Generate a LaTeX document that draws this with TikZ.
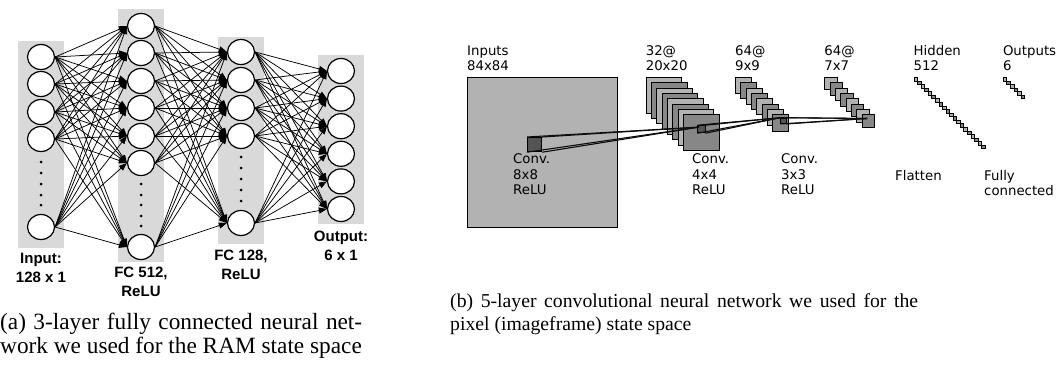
\documentclass[tikz,border=0pt]{standalone}
\usepackage{fontspec}
\setmainfont{Liberation Serif}
\newfontfamily\labelsans{Liberation Sans}
\newfontfamily\mplsans{DejaVu Sans}
\usetikzlibrary{arrows.meta,shapes.geometric}

\definecolor{colbg}{RGB}{217,217,217}
\definecolor{maplight}{gray}{0.7}
\definecolor{mapmid}{gray}{0.53}
\definecolor{patchdark}{gray}{0.33}
\definecolor{linkdark}{gray}{0.05}

\begin{document}
\begin{tikzpicture}[x=1pt,y=-1pt,
  neuron/.style={ellipse, draw, line width=1.2pt, fill=white,
    minimum width=27pt, minimum height=25pt, inner sep=0pt},
  link/.style={line width=0.75pt, -{Triangle[length=8pt,width=6pt]}},
  fclabel/.style={font=\labelsans\bfseries\fontsize{15}{18}\selectfont,
    anchor=base, inner sep=0pt},
  fmapbox/.style={draw=black, line width=0.9pt, rectangle, inner sep=0pt,
    anchor=north west},
  unitbox/.style={draw=black, line width=0.7pt, rectangle, inner sep=0pt,
    anchor=north west, minimum size=3.57pt},
  patch/.style={draw=black, line width=0.9pt, fill=patchdark, rectangle,
    inner sep=0pt, anchor=north west},
  wire/.style={draw=linkdark, line width=1.1pt},
  cnnlabel/.style={font=\mplsans\fontsize{13.3}{15}\selectfont,
    anchor=base west, inner sep=0pt},
  caption/.style={font=\fontsize{19.7}{23}\selectfont,
    anchor=base west, inner sep=0pt},
  bigcaption/.style={font=\fontsize{23.3}{27}\selectfont,
    anchor=base west, inner sep=0pt}
]
\useasboundingbox (0,0) rectangle (1057,377);

% ---------- fully connected network ----------
% layer backgrounds
\fill[colbg] (18,41) rectangle (64,248);
\fill[colbg] (118,9) rectangle (164,262);
\fill[colbg] (218,37) rectangle (264,244);
\fill[colbg] (318,55) rectangle (364,224);

% neurons
\foreach \i/\y in {1/57,2/84,3/112,4/139,5/227}
  \node[neuron] (a\i) at (41,\y) {};
\foreach \i/\y in {1/26,2/53,3/81,4/108,5/136,6/163,7/247}
  \node[neuron] (b\i) at (141,\y) {};
\foreach \i/\y in {1/52,2/80,3/108,4/136,5/223}
  \node[neuron] (c\i) at (241,\y) {};
\foreach \i/\y in {1/71,2/98.6,3/126.2,4/153.8,5/181.4,6/209}
  \node[neuron] (d\i) at (341,\y) {};

% elided neurons
\foreach \y in {162,173,184,195,205}
  \fill (41,\y) circle[radius=1.5pt];
\foreach \y in {184,195,205,216,226}
  \fill (141,\y) circle[radius=1.5pt];
\foreach \y in {157,168,179,190,201}
  \fill (241,\y) circle[radius=1.5pt];

% dense connections
\foreach \i in {1,...,5} \foreach \j in {1,...,7}
  \draw[link] (a\i.east) -- (b\j.west);
\foreach \i in {1,...,7} \foreach \j in {1,...,5}
  \draw[link] (b\i.east) -- (c\j.west);
\foreach \i in {1,...,5} \foreach \j in {1,...,6}
  \draw[link] (c\i.east) -- (d\j.west);

% layer labels
\node[fclabel] (la1) at (41,263.5) {Input:};
\node[fclabel] (la2) at (41,282.5) {128 x 1};
\node[fclabel] (lb1) at (141,277) {FC 512,};
\node[fclabel] (lb2) at (141,296) {ReLU};
\node[fclabel] (lc1) at (241,260) {FC 128,};
\node[fclabel] (lc2) at (241,279) {ReLU};
\node[fclabel] (ld1) at (341,241.5) {Output:};
\node[fclabel] (ld2) at (341,260.5) {6 x 1};

% ---------- convolutional network ----------
% input frame
\node[fmapbox, fill=maplight, minimum size=150pt] (inp) at (467,77) {};

% feature map stacks (8 maps shown per layer)
\foreach \k in {0,...,7}{
  \ifodd\k \def\mapfill{mapmid}\else\def\mapfill{maplight}\fi
  \node[fmapbox, fill=\mapfill, minimum size=35.7pt] (m1s\k)
    at (645.6+\k*5.357, 77+\k*5.357) {};
}
\foreach \k in {0,...,7}{
  \ifodd\k \def\mapfill{mapmid}\else\def\mapfill{maplight}\fi
  \node[fmapbox, fill=\mapfill, minimum size=16.07pt] (m2s\k)
    at (734.9+\k*5.357, 77+\k*5.357) {};
}
\foreach \k in {0,...,7}{
  \ifodd\k \def\mapfill{mapmid}\else\def\mapfill{maplight}\fi
  \node[fmapbox, fill=\mapfill, minimum size=12.5pt] (m3s\k)
    at (824.2+\k*5.357, 77+\k*5.357) {};
}

% hidden and output units
\foreach \k in {0,...,19}{
  \ifodd\k \def\mapfill{mapmid}\else\def\mapfill{maplight}\fi
  \node[unitbox, fill=\mapfill] (h\k) at (913.5+\k*3.57, 77+\k*3.57) {};
}
\foreach \k in {0,...,5}{
  \ifodd\k \def\mapfill{mapmid}\else\def\mapfill{maplight}\fi
  \node[unitbox, fill=\mapfill] (o\k) at (1002.8+\k*3.57, 77+\k*3.57) {};
}

% receptive fields and their projections
\node[patch, minimum size=14.3pt] (k1) at (527,137) {};
\coordinate (e1) at (699.1,127.1);
\node[patch, minimum size=7.14pt] (k2) at (697.4,125.2) {};
\coordinate (e2) at (780.4,117.7);
\node[patch, minimum size=5.36pt] (k3) at (780.4,117.7) {};
\coordinate (e3) at (867,118.5);

\foreach \c in {north west,north east,south west,south east}{
  \draw[wire] (k1.\c) -- (e1);
  \draw[wire] (k2.\c) -- (e2);
  \draw[wire] (k3.\c) -- (e3);
}

% layer labels
\node[cnnlabel] (ti1) at (467,55.5) {Inputs};
\node[cnnlabel] (ti2) at (467,70.5) {84x84};
\node[cnnlabel] (t11) at (645.6,55.5) {32@};
\node[cnnlabel] (t12) at (645.6,70.5) {20x20};
\node[cnnlabel] (t21) at (734.9,55.5) {64@};
\node[cnnlabel] (t22) at (734.9,70.5) {9x9};
\node[cnnlabel] (t31) at (824.2,55.5) {64@};
\node[cnnlabel] (t32) at (824.2,70.5) {7x7};
\node[cnnlabel] (th1) at (913.5,55.5) {Hidden};
\node[cnnlabel] (th2) at (913.5,70.5) {512};
\node[cnnlabel] (to1) at (1002.8,55.5) {Outputs};
\node[cnnlabel] (to2) at (1002.8,70.5) {6};

% operation labels
\node[cnnlabel] (op11) at (513,164) {Conv.};
\node[cnnlabel] (op12) at (513,179) {8x8};
\node[cnnlabel] (op13) at (513,194) {ReLU};
\node[cnnlabel] (op21) at (692,164) {Conv.};
\node[cnnlabel] (op22) at (692,179) {4x4};
\node[cnnlabel] (op23) at (692,194) {ReLU};
\node[cnnlabel] (op31) at (781,164) {Conv.};
\node[cnnlabel] (op32) at (781,179) {3x3};
\node[cnnlabel] (op33) at (781,194) {ReLU};
\node[cnnlabel] (op4) at (895,180) {Flatten};
\node[cnnlabel] (op51) at (984,180) {Fully};
\node[cnnlabel] (op52) at (984,195) {connected};

% ---------- captions ----------
\node[bigcaption] (capa1) at (0,329)
  {\makebox[362pt][s]{(a) 3-layer fully connected neural net-}};
\node[bigcaption] (capa2) at (0,353) {work we used for the RAM state space};
\node[caption] (capb1) at (450,307)
  {\makebox[468pt][s]{(b) 5-layer convolutional neural network we used for the}};
\node[caption] (capb2) at (450,330) {pixel (imageframe) state space};
\end{tikzpicture}
\end{document}
